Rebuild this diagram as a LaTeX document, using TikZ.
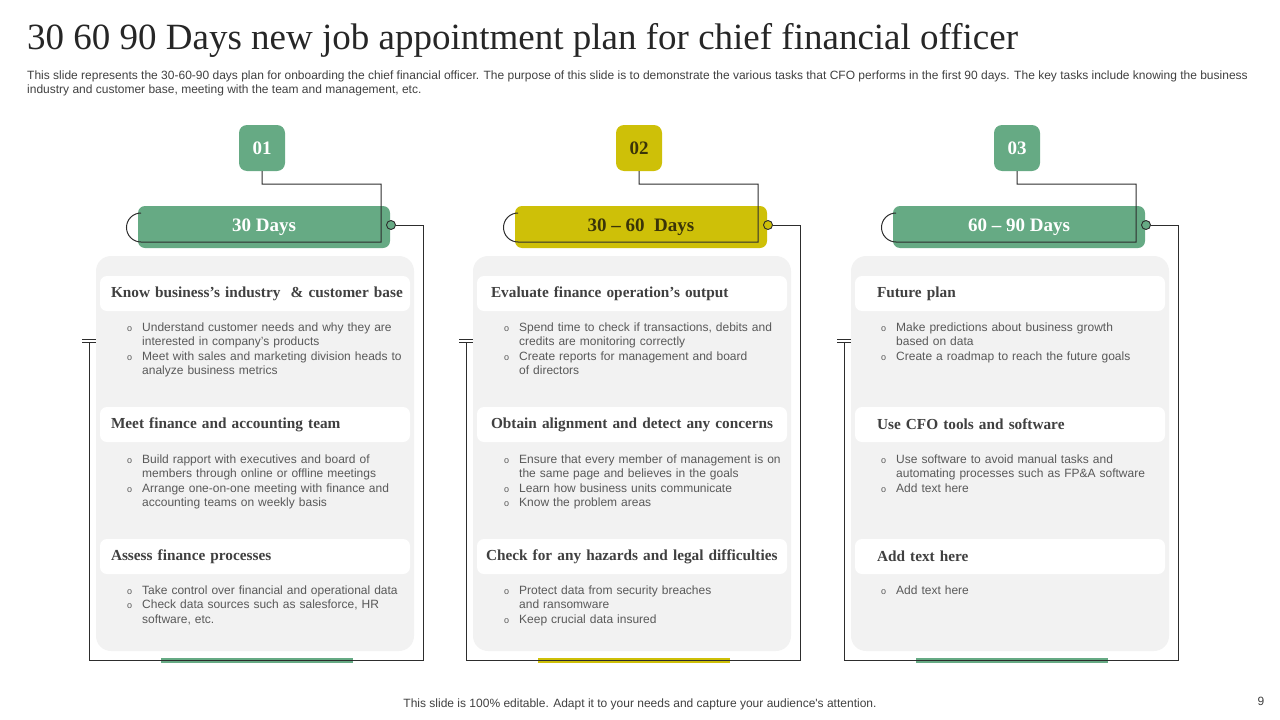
\documentclass[tikz,border=0pt]{standalone}
\usepackage{fontspec}
\setmainfont{Liberation Serif}
\newfontfamily\cfosans{Liberation Sans}
\usepackage{tikz}
\usetikzlibrary{positioning,calc}
\usepackage{xcolor}
\definecolor{cfogreen}{RGB}{102,170,132}
\definecolor{cfoyellow}{RGB}{206,192,8}
\definecolor{cfodark}{RGB}{58,52,8}
\definecolor{panelgray}{RGB}{242,242,242}
\definecolor{headtext}{RGB}{64,64,64}
\definecolor{bullettext}{RGB}{89,89,89}
\definecolor{wiregray}{RGB}{45,45,45}
\newcommand{\cfoitem}[1]{{\par\hangindent=16pt\hangafter=1\noindent\makebox[16pt][l]{\hspace{1pt}\fontsize{9}{9}\selectfont o}#1\par}}

\begin{document}
\begin{tikzpicture}[x=1pt,y=-1pt,
    numbox/.style={rounded corners=8, minimum width=46, minimum height=46, inner sep=0,
        font=\fontsize{19}{19}\selectfont\bfseries},
    barbox/.style={rounded corners=7, minimum width=252, minimum height=42, inner sep=0,
        font=\fontsize{19}{19}\selectfont\bfseries},
    panel/.style={fill=panelgray, rounded corners=15, minimum width=318, minimum height=395, inner sep=0},
    headbox/.style={fill=white, rounded corners=7, minimum height=35, inner ysep=0, inner xsep=11,
        text width=288, align=left, text=headtext, font=\fontsize{15.3}{16}\selectfont\bfseries},
    bullets/.style={anchor=north west, inner sep=0, text width=290, text=bullettext,
        execute at begin node=\raggedright,
        font=\cfosans\fontsize{12}{14.3}\selectfont},
    dotc/.style={circle, draw=wiregray, line width=0.9, minimum size=9, inner sep=0},
    wire/.style={draw=wiregray, line width=1}]
    \useasboundingbox (0,0) rectangle (1280,720);

    % --- title and notes ---
    \node[anchor=west, inner sep=0, font=\fontsize{37}{37}\selectfont, text=black!85] (title) at (27,40)
        {30 60 90 Days new job appointment plan for chief financial officer};
    \node[anchor=north west, inner sep=0, align=left, text=headtext, font=\cfosans\fontsize{12}{14}\selectfont] (notes) at (27,71)
        {This slide represents the 30-60-90 days plan for onboarding the chief financial officer. The purpose of this slide is to demonstrate the various tasks that CFO performs in the first 90 days. The key tasks include knowing the business\\
         industry and customer base, meeting with the team and management, etc.};
    \node[text=headtext, font=\cfosans\fontsize{12}{14}\selectfont] (footer) at (640,704)
        {This slide is 100\% editable. Adapt it to your needs and capture your audience's attention.};
    \node[text=headtext, font=\cfosans\fontsize{12}{14}\selectfont] (pagenum) at (1261,701) {9};

    % --- the three phases ---
    \foreach \c/\dx/\fc/\tc/\nm/\lbl in {1/0/cfogreen/white/01/30 Days,
                                         2/377/cfoyellow/cfodark/02/30 – 60~ Days,
                                         3/755/cfogreen/white/03/60 – 90 Days} {
        \begin{scope}[shift={(\dx,0)}]
            \node[panel] (panel\c) at (255,453.5) {};
            \fill[\fc] (161,658) rectangle (353,663);
            \node[numbox, fill=\fc, text=\tc] (num\c) at (262,148) {\nm};
            \node[barbox, fill=\fc, text=\tc] (bar\c) at (264,227) {\lbl};
            \node[dotc, fill=\fc] (dot\c) at (391,225) {};
            \coordinate (tee\c) at (89,342);
            \draw[wire] (num\c.south) |- (381,184) -- (381,242) -- (141,242)
                arc[start angle=90, end angle=270, radius=14.5];
            \draw[wire] (dot\c.east) -| (423,660) -| (tee\c);
            \draw[wire] ([xshift=-7]tee\c) -- ([xshift=7]tee\c)
                ([xshift=-7,yshift=3]tee\c) -- ([xshift=7,yshift=3]tee\c);
        \end{scope}
    }

    % --- 30 days ---
    \node[headbox] (h11) at (255,293.5) {\mbox{Know business’s industry \ \& customer base}};
    \node[bullets] (b11) at (126,317) {\cfoitem{Understand customer needs and why they are\newline interested in company’s products}
        \cfoitem{Meet with sales and marketing division heads to\newline analyze business metrics}};
    \node[headbox] (h12) at (255,424.5) {Meet finance and accounting team};
    \node[bullets] (b12) at (126,449) {\cfoitem{Build rapport with executives and board of\newline members through online or offline meetings}
        \cfoitem{Arrange one-on-one meeting with finance and\newline accounting teams on weekly basis}};
    \node[headbox] (h13) at (255,556.5) {Assess finance processes};
    \node[bullets] (b13) at (126,580) {\cfoitem{Take control over financial and operational data}
        \cfoitem{Check data sources such as salesforce, HR\newline software, etc.}};

    % --- 30-60 days ---
    \node[headbox, inner xsep=14, text width=282] (h21) at (632,293.5) {Evaluate finance operation's output};
    \node[bullets] (b21) at (503,317) {\cfoitem{Spend time to check if transactions, debits and\newline credits are monitoring correctly}
        \cfoitem{Create reports for management and board\newline of directors}};
    \node[headbox, inner xsep=14, text width=282] (h22) at (632,424.5) {\mbox{Obtain alignment and detect any concerns}};
    \node[bullets] (b22) at (503,449) {\cfoitem{Ensure that every member of management is on\newline the same page and believes in the goals}
        \cfoitem{Learn how business units communicate}
        \cfoitem{Know the problem areas}};
    \node[headbox, inner xsep=9, text width=292] (h23) at (632,556.5) {\mbox{Check for any hazards and legal difficulties}};
    \node[bullets] (b23) at (503,580) {\cfoitem{Protect data from security breaches\newline and ransomware}
        \cfoitem{Keep crucial data insured}};

    % --- 60-90 days ---
    \node[headbox, inner xsep=22, text width=266] (h31) at (1010,293.5) {Future plan};
    \node[bullets] (b31) at (880,317) {\cfoitem{Make predictions about business growth\newline based on data}
        \cfoitem{Create a roadmap to reach the future goals}};
    \node[headbox, inner xsep=22, text width=266] (h32) at (1010,424.5) {Use CFO tools and software};
    \node[bullets] (b32) at (880,449) {\cfoitem{Use software to avoid manual tasks and\newline automating processes such as FP\&A software}
        \cfoitem{Add text here}};
    \node[headbox, inner xsep=22, text width=266] (h33) at (1010,556.5) {Add text here};
    \node[bullets] (b33) at (880,580) {\cfoitem{Add text here}};
\end{tikzpicture}
\end{document}
